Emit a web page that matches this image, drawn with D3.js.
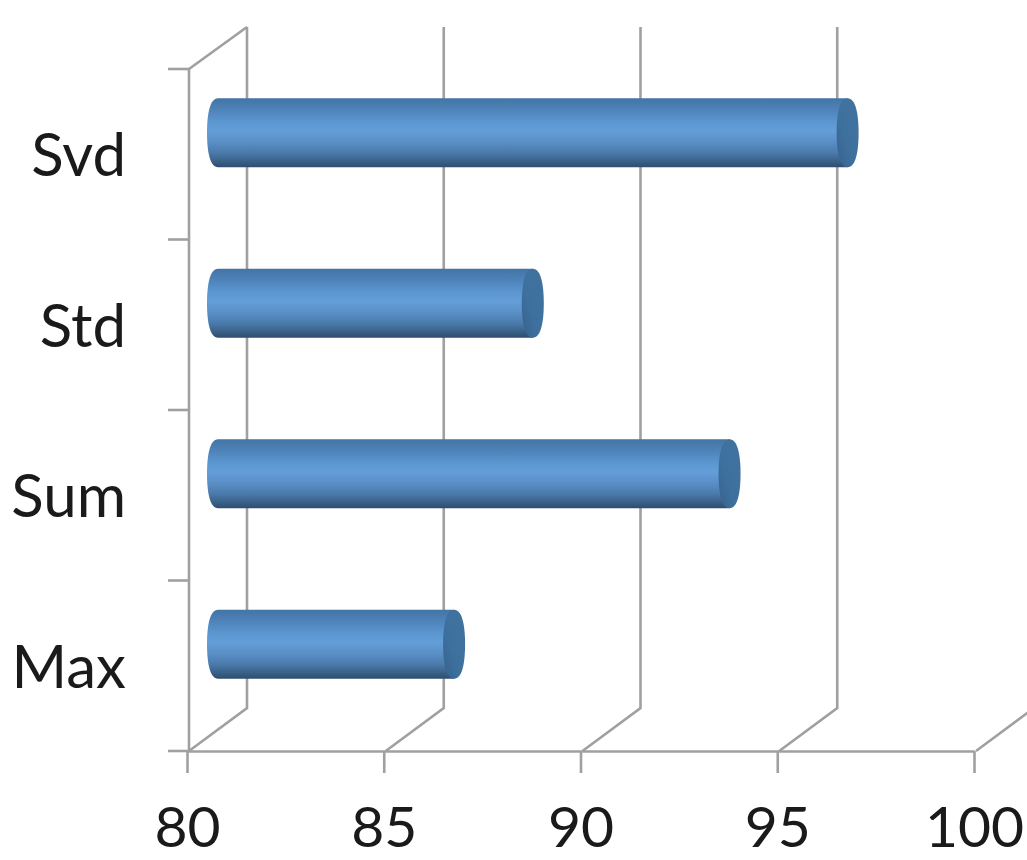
<!DOCTYPE html>
<html>
<head>
<meta charset="utf-8">
<script src="https://cdn.jsdelivr.net/npm/d3@7"></script>
<style>
  html, body { margin: 0; padding: 0; background: #fff; }
  svg { display: block; }
  text { font-family: Lato, "Open Sans", sans-serif; fill: #1a1a1a; }
</style>
</head>
<body>
<svg id="chart" width="1027" height="860"></svg>
<script>
// Chart values
const categories = ["Max", "Sum", "Std", "Svd"];
const values = [86, 93, 88, 96];
const xTicks = [80, 85, 90, 95, 100];

// Layout of the pseudo-3D box
const W = 1027, H = 860;
const left = 187, right = 974, floorY = 751, topY = 69;
const depthX = 60, depthY = 43;
const wallX = 189;
const gridColor = "#a0a0a0";
const gridWidth = 2.6;

const svg = d3.select("#chart");
const x = d3.scaleLinear().domain([80, 100]).range([left, right]);
const y = d3.scaleBand().domain(categories).range([floorY, topY]).paddingInner(0.595).paddingOuter(0.2975);

// Cylinder shading, dark rim at top and bottom with a highlight in the middle
const defs = svg.append("defs");
const grad = defs.append("linearGradient").attr("id", "tube").attr("x1", 0).attr("x2", 0).attr("y1", 0).attr("y2", 1);
[[0, "#4474a5"], [0.14, "#4c80b6"], [0.34, "#5c96d0"], [0.47, "#649ed9"], [0.62, "#5b90c8"], [0.78, "#4c7cae"], [0.91, "#3a6188"], [1, "#2d4d70"]]
  .forEach(([o, c]) => grad.append("stop").attr("offset", o).attr("stop-color", c));
const capGrad = defs.append("linearGradient").attr("id", "cap").attr("x1", 1).attr("x2", 0).attr("y1", 0).attr("y2", 1);
[[0, "#42739f"], [0.6, "#3e709e"], [1, "#36618b"]]
  .forEach(([o, c]) => capGrad.append("stop").attr("offset", o).attr("stop-color", c));

// Back wall gridlines and the floor diagonals leading to them
const grid = svg.append("g").attr("stroke", gridColor).attr("stroke-width", gridWidth).attr("fill", "none");
grid.selectAll("path.wall").data(xTicks).join("path").attr("class", "wall")
  .attr("d", d => `M${x(d) + 2},${floorY}L${x(d) + depthX},${floorY - depthY}L${x(d) + depthX},${topY - depthY + 1}`);
grid.append("path").attr("d", `M${wallX},${topY}L${left + depthX},${topY - depthY + 1}`);

// Vertical axis with its tick marks on category boundaries
const yEdges = d3.range(categories.length + 1).map(i => floorY + (topY - floorY) * i / categories.length);
grid.append("path").attr("d", `M${wallX},${topY}L${wallX},${floorY}`);
grid.selectAll("path.ytick").data(yEdges).join("path").attr("class", "ytick")
  .attr("d", d => `M${left - 19},${d}L${wallX},${d}`);

// Horizontal axis
const xAxis = d3.axisBottom(x).tickValues(xTicks).tickSize(22).tickSizeOuter(0).tickPadding(34).tickFormat(d3.format("d"));
const gx = svg.append("g").attr("transform", `translate(0,${floorY})`).call(xAxis);
gx.select(".domain").attr("stroke", gridColor).attr("stroke-width", gridWidth);
gx.selectAll(".tick line").attr("stroke", gridColor).attr("stroke-width", gridWidth);
gx.selectAll(".tick text").attr("font-size", 57).attr("font-family", "Lato, sans-serif").attr("fill", "#1a1a1a");

// Category labels
svg.append("g").selectAll("text").data(categories).join("text")
  .attr("x", 126).attr("y", d => y(d) + y.bandwidth() / 2 + 22)
  .attr("text-anchor", "end").attr("font-size", 60).text(d => d);

// Horizontal cylinders with slightly squared-off elliptical ends
const rx = 11;
const offX = depthX / 2 + 1, offY = depthY / 2;
const bulge = 0.72;
const bars = svg.append("g").selectAll("g").data(categories.map((c, i) => ({ c, v: values[i] }))).join("g");
bars.append("path").attr("fill", "url(#tube)").attr("d", d => {
  const t = y(d.c) - offY, h = y.bandwidth(), x0 = x(80) + offX, x1 = x(d.v) + offX, m = t + h / 2;
  return `M${x0},${t}L${x1},${t}L${x1},${t + h}L${x0},${t + h}` +
    `C${x0 - rx * bulge},${t + h} ${x0 - rx},${m + h * 0.28} ${x0 - rx},${m}` +
    `C${x0 - rx},${m - h * 0.28} ${x0 - rx * bulge},${t} ${x0},${t}Z`;
});
bars.append("path").attr("fill", "url(#cap)").attr("d", d => {
  const t = y(d.c) - offY, h = y.bandwidth(), c = x(d.v) + offX, m = t + h / 2;
  return `M${c},${t}` +
    `C${c + rx * bulge},${t} ${c + rx},${m - h * 0.28} ${c + rx},${m}` +
    `C${c + rx},${m + h * 0.28} ${c + rx * bulge},${t + h} ${c},${t + h}` +
    `C${c - rx * bulge},${t + h} ${c - rx},${m + h * 0.28} ${c - rx},${m}` +
    `C${c - rx},${m - h * 0.28} ${c - rx * bulge},${t} ${c},${t}Z`;
});
</script>
</body>
</html>
